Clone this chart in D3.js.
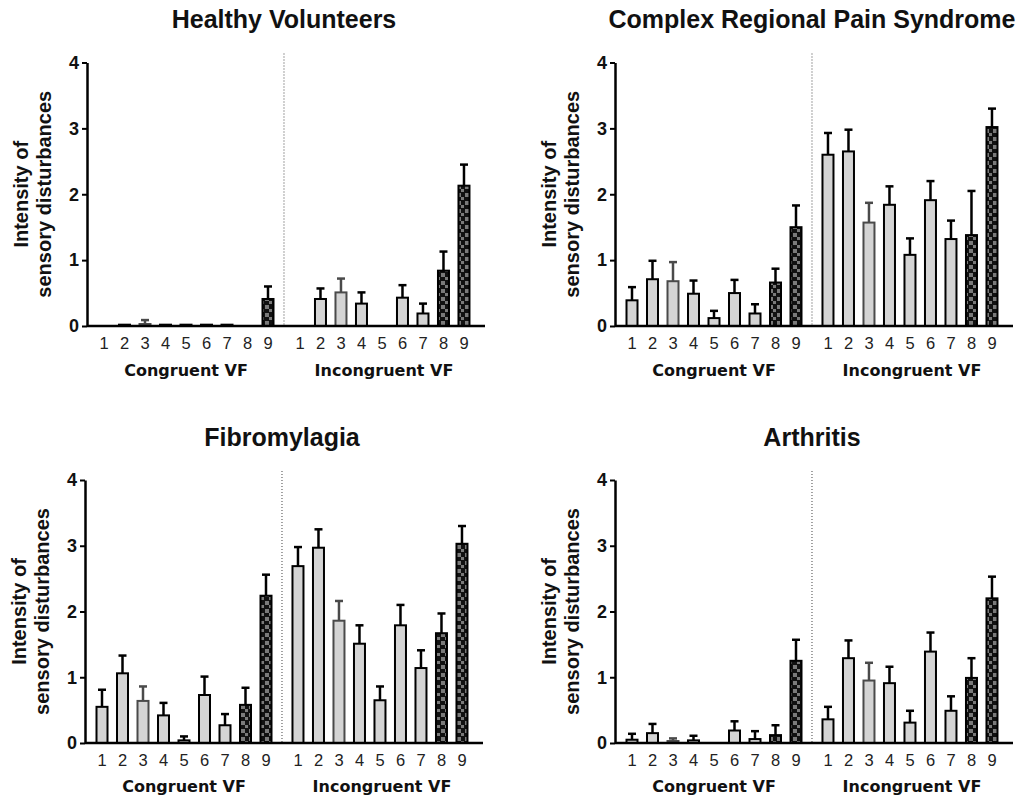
<!DOCTYPE html>
<html><head><meta charset="utf-8">
<script src="https://cdn.jsdelivr.net/npm/d3@7"></script>
<style>body{margin:0;background:#fff}svg{display:block}</style>
</head><body>
<svg id="c" width="1024" height="800"></svg>
<script>
const barLabels = ["1","2","3","4","5","6","7","8","9"];
const groupLabels = ["Congruent VF","Incongruent VF"];
const yTicks = [0,1,2,3,4];
const panelTitles = ["Healthy Volunteers","Complex Regional Pain Syndrome","Fibromylagia","Arthritis"];

// means and upper error (mean+SEM) per panel: congruent 1-9, incongruent 1-9
const hvCong   = [0,0.02,0.03,0.02,0.02,0.02,0.02,0,0.41];
const hvCongE  = [0,0.02,0.09,0.02,0.02,0.02,0.02,0,0.60];
const hvInc    = [0,0.41,0.51,0.34,0,0.43,0.19,0.84,2.13];
const hvIncE   = [0,0.57,0.72,0.51,0,0.62,0.34,1.13,2.45];

const crCong   = [0.39,0.71,0.68,0.49,0.12,0.50,0.19,0.66,1.50];
const crCongE  = [0.59,0.99,0.97,0.69,0.23,0.70,0.33,0.87,1.83];
const crInc    = [2.60,2.65,1.57,1.84,1.08,1.91,1.32,1.38,3.02];
const crIncE   = [2.93,2.98,1.87,2.12,1.33,2.20,1.60,2.05,3.30];

const fmCong   = [0.55,1.06,0.64,0.42,0.04,0.73,0.27,0.58,2.24];
const fmCongE  = [0.81,1.33,0.86,0.61,0.10,1.01,0.44,0.84,2.56];
const fmInc    = [2.69,2.97,1.86,1.51,0.65,1.79,1.14,1.67,3.03];
const fmIncE   = [2.98,3.25,2.16,1.79,0.86,2.10,1.41,1.97,3.30];

const arCong   = [0.05,0.15,0.03,0.04,0,0.19,0.06,0.12,1.25];
const arCongE  = [0.14,0.29,0.07,0.11,0,0.33,0.18,0.27,1.57];
const arInc    = [0.36,1.29,0.95,0.91,0.31,1.39,0.49,0.99,2.20];
const arIncE   = [0.55,1.56,1.22,1.16,0.49,1.68,0.71,1.29,2.53];

const panelData = [
  [hvCong,hvCongE,hvInc,hvIncE],
  [crCong,crCongE,crInc,crIncE],
  [fmCong,fmCongE,fmInc,fmIncE],
  [arCong,arCongE,arInc,arIncE]
];

const layout = [
  {ax:87, top:62.5, zero:326},
  {ax:615, top:62.5, zero:326},
  {ax:85, top:480, zero:743},
  {ax:615, top:480, zero:743}
];

const svg = d3.select("#c");
const defs = svg.append("defs");
const pat = defs.append("pattern").attr("id","chk").attr("patternUnits","userSpaceOnUse")
  .attr("width",8).attr("height",8);
pat.append("rect").attr("width",8).attr("height",8).attr("fill","#111");
pat.append("rect").attr("x",1).attr("y",1).attr("width",4).attr("height",4).attr("fill","#7a7a7a");
pat.append("rect").attr("x",5).attr("y",5).attr("width",3).attr("height",3).attr("fill","#7a7a7a");

const GAP = 9.56;
const SP = 20.5;
const font = "Liberation Sans, Arial, sans-serif";

layout.forEach((L,pi)=>{
  const g = svg.append("g");
  const y = d3.scaleLinear().domain([0,4]).range([L.zero,L.top]);
  const x = d3.scaleLinear().domain([0,1]).range([L.ax+17, L.ax+17+SP]);
  const [c,cE,inc,incE] = panelData[pi];
  const bars = [];
  c.forEach((v,i)=>bars.push({s:i,v:v,e:cE[i],k:i}));
  inc.forEach((v,i)=>bars.push({s:GAP+i,v:v,e:incE[i],k:i}));

  // title
  g.append("text").attr("x", x((GAP+8)/2)).attr("y",L.top-34.5).attr("text-anchor","middle")
    .attr("font-family",font).attr("font-weight","bold").attr("font-size",25).attr("fill","#111")
    .text(panelTitles[pi]);

  // dotted separator
  g.append("line").attr("x1",x((8+GAP)/2)).attr("x2",x((8+GAP)/2))
    .attr("y1",L.top-9).attr("y2",L.zero).attr("stroke","#444").attr("stroke-width",1)
    .attr("stroke-dasharray","1,2");

  // bars
  const bw = 13;
  bars.forEach(b=>{
    const col = b.k===2 ? "#4a4a4a" : "#000";
    if (b.e > b.v) {
      g.append("line").attr("x1",x(b.s)).attr("x2",x(b.s)).attr("y1",y(b.v)).attr("y2",y(b.e))
        .attr("stroke",col).attr("stroke-width",2.5);
      g.append("line").attr("x1",x(b.s)-4).attr("x2",x(b.s)+4).attr("y1",y(b.e)).attr("y2",y(b.e))
        .attr("stroke",col).attr("stroke-width",2.5);
    }
    if (b.v > 0) {
      g.append("rect").attr("x",x(b.s)-bw/2+1).attr("width",bw-2)
        .attr("y",y(b.v)).attr("height",Math.max(0.5,L.zero-y(b.v)))
        .attr("fill", b.k>=7 ? "url(#chk)" : "#d4d4d4")
        .attr("stroke",col).attr("stroke-width",2);
    }
  });

  // x axis
  g.append("line").attr("x1",L.ax).attr("x2",L.ax+398).attr("y1",L.zero).attr("y2",L.zero)
    .attr("stroke","#000").attr("stroke-width",2.5);
  bars.forEach(b=>{
    g.append("text").attr("x",x(b.s)).attr("y",L.zero+23).attr("text-anchor","middle")
      .attr("font-family",font).attr("font-size",16.5).attr("fill","#222")
      .text(barLabels[b.k]);
  });
  const gy = L.zero + (pi<2 ? 50 : 49);
  g.append("text").attr("x",x(4)).attr("y",gy).attr("text-anchor","middle")
    .attr("font-family","DejaVu Sans, sans-serif").attr("font-weight","bold").attr("font-size",16).attr("fill","#111")
    .text(groupLabels[0]);
  g.append("text").attr("x",x(GAP+4)+2).attr("y",gy).attr("text-anchor","middle")
    .attr("font-family","DejaVu Sans, sans-serif").attr("font-weight","bold").attr("font-size",16).attr("fill","#111")
    .text(groupLabels[1]);

  // y axis
  const yAx = g.append("g").attr("transform",`translate(${L.ax},0)`)
    .call(d3.axisLeft(y).tickValues(yTicks).tickSize(5).tickSizeOuter(0).tickFormat(d3.format("d")));
  yAx.select(".domain").attr("stroke-width",2.5).attr("stroke","#000");
  yAx.selectAll(".tick line").attr("stroke-width",2).attr("stroke","#000");
  yAx.selectAll(".tick text").attr("font-family",font).attr("font-weight","bold")
    .attr("font-size",18).attr("fill","#111").attr("x",-8);

  // y label
  const cy = (L.top+L.zero)/2;
  const lab = g.append("text").attr("transform",`translate(${L.ax-59},${cy}) rotate(-90)`)
    .attr("text-anchor","middle").attr("font-family",font).attr("font-weight","bold")
    .attr("font-size",20).attr("fill","#111");
  lab.append("tspan").attr("x",0).attr("dy",0).text("Intensity of");
  lab.append("tspan").attr("x",0).attr("dy",23).text("sensory disturbances");
});
</script>
</body></html>
